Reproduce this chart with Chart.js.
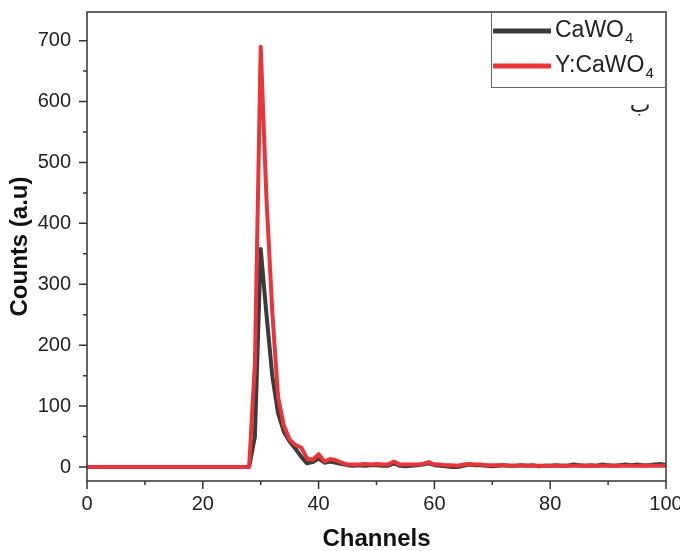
<!DOCTYPE html>
<html><head><meta charset="utf-8">
<script src="https://cdn.jsdelivr.net/npm/chart.js@4/dist/chart.umd.min.js"></script>
<style>html,body{margin:0;padding:0;background:#fff}#wrap{width:680px;height:551px;position:relative}</style>
</head><body><div id="wrap"><canvas id="c" width="680" height="551"></canvas></div>
<script>
const channels = [0,1,2,3,4,5,6,7,8,9,10,11,12,13,14,15,16,17,18,19,20,21,22,23,24,25,26,27,28,29,30,31,32,33,34,35,36,37,38,39,40,41,42,43,44,45,46,47,48,49,50,51,52,53,54,55,56,57,58,59,60,61,62,63,64,65,66,67,68,69,70,71,72,73,74,75,76,77,78,79,80,81,82,83,84,85,86,87,88,89,90,91,92,93,94,95,96,97,98,99,100];
const cawo4 = [0,0,0,0,0,0,0,0,0,0,0,0,0,0,0,0,0,0,0,0,0,0,0,0,0,0,0,0,0,50,358,250,150,88,58,42,30,17,6,8,14,7,9,7,5,3,2,3,2,3,3,2,2,6,2,1,2,3,4,6,3,2,1,0,0,2,4,3,3,2,1,2,3,2,2,3,2,3,1,2,2,3,2,2,4,3,2,3,2,4,3,2,3,4,3,4,3,3,4,5,3];
const ycawo4 = [0,0,0,0,0,0,0,0,0,0,0,0,0,0,0,0,0,0,0,0,0,0,0,0,0,0,0,0,0,170,690,440,255,115,68,45,36,32,14,12,21,9,13,11,7,4,4,4,5,4,5,4,4,9,4,4,4,4,5,8,4,4,3,3,2,4,5,4,4,3,3,3,3,2,2,3,2,2,2,2,2,2,2,2,2,2,2,2,2,2,2,2,2,2,2,2,2,2,2,2,2];
const seriesNames = ['CaWO\u2084', 'Y:CaWO\u2084'];
const legendMain = ['CaWO', 'Y:CaWO'];
const legendSub = ['4', '4'];
const xMajor = [0,20,40,60,80,100];
const xMinor = [10,30,50,70,90];
const yMajor = [0,100,200,300,400,500,600,700];
const yMinor = [50,150,250,350,450,550,650];
const xTitle = 'Channels';
const yTitle = 'Counts (a.u)';
const panelMark = '\u0628';

const FONT = "'Liberation Sans', Arial, sans-serif";
const axisColor = '#333';

const decor = {
  id: 'decor',
  afterDraw(chart) {
    const {ctx, chartArea: a, scales: {x, y}} = chart;
    ctx.save();
    ctx.strokeStyle = axisColor;
    ctx.lineWidth = 1.5;
    ctx.strokeRect(a.left, a.top, a.right - a.left, a.bottom - a.top);
    ctx.beginPath();
    xMajor.forEach(v => { const p = x.getPixelForValue(v); ctx.moveTo(p, a.bottom); ctx.lineTo(p, a.bottom + 8); });
    xMinor.forEach(v => { const p = x.getPixelForValue(v); ctx.moveTo(p, a.bottom); ctx.lineTo(p, a.bottom + 4); });
    yMajor.forEach(v => { const p = y.getPixelForValue(v); ctx.moveTo(a.left, p); ctx.lineTo(a.left - 8, p); });
    yMinor.forEach(v => { const p = y.getPixelForValue(v); ctx.moveTo(a.left, p); ctx.lineTo(a.left - 4, p); });
    ctx.stroke();
    // legend
    const bx = 491, by = a.top, bw = a.right - 491, bh = 75;
    ctx.lineWidth = 1;
    ctx.strokeStyle = '#666';
    ctx.strokeRect(bx + 0.5, by + 0.5, bw, bh);
    const rows = [31, 66];
    chart.data.datasets.forEach((ds, i) => {
      const ry = rows[i];
      ctx.strokeStyle = ds.borderColor;
      ctx.lineWidth = 5;
      ctx.beginPath(); ctx.moveTo(493, ry); ctx.lineTo(551, ry); ctx.stroke();
      ctx.fillStyle = '#222';
      ctx.textBaseline = 'middle';
      ctx.textAlign = 'left';
      ctx.font = '23px ' + FONT;
      ctx.fillText(legendMain[i], 555, ry);
      const w = ctx.measureText(legendMain[i]).width;
      ctx.font = '15px ' + FONT;
      ctx.fillText(legendSub[i], 555 + w + 1, ry + 8);
    });
    ctx.fillStyle = '#222';
    ctx.font = "22px 'DejaVu Sans', sans-serif";
    ctx.textAlign = 'center';
    ctx.textBaseline = 'middle';
    ctx.fillText(panelMark, 640, 106);
    ctx.restore();
  }
};

new Chart(document.getElementById('c'), {
  type: 'line',
  data: {
    labels: channels,
    datasets: [
      { label: seriesNames[0], data: channels.map((c, i) => ({x: c, y: cawo4[i]})), borderColor: '#3b3b3b', borderWidth: 4, pointRadius: 0, tension: 0, borderJoinStyle: 'round', order: 1 },
      { label: seriesNames[1], data: channels.map((c, i) => ({x: c, y: ycawo4[i]})), borderColor: '#e8353a', borderWidth: 4, pointRadius: 0, tension: 0, borderJoinStyle: 'round', order: 0 }
    ]
  },
  options: {
    responsive: false,
    animation: false,
    layout: { padding: { top: 12, right: 14, left: 0, bottom: 0 } },
    plugins: { legend: { display: false }, tooltip: { enabled: false } },
    scales: {
      x: {
        type: 'linear', min: 0, max: 100,
        afterBuildTicks: s => { s.ticks = xMajor.map(v => ({value: v})); },
        afterFit: s => { s.height = 70; s.paddingLeft = 0; s.paddingRight = 0; },
        grid: { display: false, drawTicks: false, tickLength: 0 },
        border: { display: false },
        ticks: { padding: 11, autoSkip: false, maxRotation: 0, color: '#222', font: { family: FONT, size: 20 } },
        title: { display: true, text: xTitle, color: '#111', font: { family: FONT, size: 24, weight: 'bold', lineHeight: 1 }, padding: { top: 0, bottom: 0 } }
      },
      y: {
        type: 'linear', min: -23, max: 747,
        afterBuildTicks: s => { s.ticks = yMajor.map(v => ({value: v})); },
        afterFit: s => { s.width = 87; s.paddingTop = 0; s.paddingBottom = 0; },
        grid: { display: false, drawTicks: false, tickLength: 0 },
        border: { display: false },
        ticks: { padding: 16, color: '#222', font: { family: FONT, size: 20 } },
        title: { display: true, text: yTitle, color: '#111', font: { family: FONT, size: 24, weight: 'bold', lineHeight: 1 }, padding: { top: 8, bottom: 0 } }
      }
    }
  },
  plugins: [decor]
});
</script>
</body></html>
